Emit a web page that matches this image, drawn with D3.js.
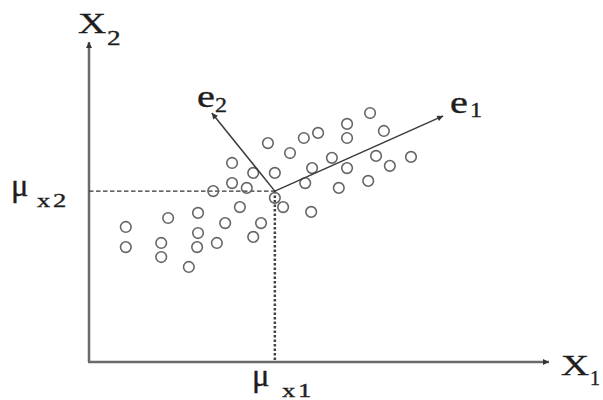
<!DOCTYPE html>
<html>
<head>
<meta charset="utf-8">
<script src="https://cdn.jsdelivr.net/npm/d3@7"></script>
<style>
  html, body { margin: 0; padding: 0; background: #fff; }
  svg { display: block; }
  text { font-family: "Liberation Serif", "DejaVu Serif", serif; fill: #1e1e1e; stroke: #1e1e1e; stroke-width: 0.35; }
</style>
</head>
<body>
<svg id="chart" width="603" height="400"></svg>
<script>
// ---- Data (abstract units, origin at axis corner) ----
const pointsX = [61.1, 56.1, 49.8, 46.7, 56.1, 64.1, 38.9, 43.7, 52.8, 62.4,
                 70.0, 31.1, 35.7, 40.4, 48.5, 56.1, 65.4, 31.1, 34.3, 27.0,
                 47.0, 60.7, 54.3, 40.4, 42.2, 32.8, 48.3, 23.7, 17.2, 29.6,
                 37.4,  8.0, 23.7, 35.7, 15.7, 27.8,  8.0, 23.5, 15.7, 21.7];
const pointsY = [77.8, 74.4, 71.6, 70.0, 70.0, 72.2, 68.4, 65.3, 63.8, 64.4,
                 64.1, 62.2, 59.1, 59.1, 60.6, 60.6, 61.3, 55.9, 54.4, 53.4,
                 55.9, 56.6, 54.4, 51.3, 48.4, 48.4, 46.9, 46.6, 45.0, 43.4,
                 43.4, 42.2, 40.3, 39.1, 37.2, 37.2, 35.9, 35.9, 32.8, 29.7];
const meanPoint = [40.4, 53.4];
const e1Tip = [77.0, 76.9];
const e2Tip = [26.7, 77.8];
const axisMax = [100, 100];

const svg = d3.select("#chart");
const x = d3.scaleLinear().domain([0, 100]).range([89, 549]);
const y = d3.scaleLinear().domain([0, 100]).range([362, 42]);

const defs = svg.append("defs");
function marker(id, color, w, h) {
  defs.append("marker")
    .attr("id", id).attr("viewBox", "0 0 10 10")
    .attr("refX", 10).attr("refY", 5)
    .attr("markerUnits", "userSpaceOnUse")
    .attr("markerWidth", w).attr("markerHeight", h)
    .attr("orient", "auto")
    .append("path").attr("d", "M0,0 L10,5 L0,10 Z").attr("fill", color);
}
marker("arrAxis", "#333", 9, 6);
marker("arrVec", "#333", 10, 6);

// Axes
svg.append("line")
  .attr("x1", x(0)).attr("y1", y(0)).attr("x2", x(0)).attr("y2", y(axisMax[1]))
  .attr("stroke", "#6a6a6a").attr("stroke-width", 2.5).attr("marker-end", "url(#arrAxis)");
svg.append("line")
  .attr("x1", x(0) - 1).attr("y1", y(0)).attr("x2", x(axisMax[0])).attr("y2", y(0))
  .attr("stroke", "#6a6a6a").attr("stroke-width", 2.5).attr("marker-end", "url(#arrAxis)");

// Mean guides
svg.append("line")
  .attr("x1", x(0)).attr("y1", y(meanPoint[1])).attr("x2", x(meanPoint[0])).attr("y2", y(meanPoint[1]))
  .attr("stroke", "#333").attr("stroke-width", 1.4).attr("stroke-dasharray", "4.5,2.5");
svg.append("line")
  .attr("x1", x(meanPoint[0])).attr("y1", y(meanPoint[1])).attr("x2", x(meanPoint[0])).attr("y2", y(0))
  .attr("stroke", "#444").attr("stroke-width", 2.5).attr("stroke-dasharray", "2.5,2");

// Points
svg.append("g").selectAll("circle")
  .data(pointsX.map((v, i) => [v, pointsY[i]]))
  .join("circle")
  .attr("cx", d => x(d[0])).attr("cy", d => y(d[1]))
  .attr("r", 5.3)
  .attr("fill", "none").attr("stroke", "#666").attr("stroke-width", 1.6);

// Eigenvectors
[e1Tip, e2Tip].forEach(t => {
  svg.append("line")
    .attr("x1", x(meanPoint[0])).attr("y1", y(meanPoint[1]))
    .attr("x2", x(t[0])).attr("y2", y(t[1]))
    .attr("stroke", "#3a3a3a").attr("stroke-width", 1.5).attr("marker-end", "url(#arrVec)");
});

// Labels
function label(txt, lx, ly, size, sx, ls) {
  svg.append("text")
    .attr("transform", `translate(${lx},${ly}) scale(${sx},1)`)
    .attr("font-size", size)
    .attr("letter-spacing", ls || 0)
    .text(txt);
}
label("X", 78, 33, 30, 1.3);
label("2", 107, 45, 21, 1.3);
label("e", 197, 107, 31, 1.3);
label("2", 215, 112, 20, 1.2);
label("e", 450, 113, 31, 1.3);
label("1", 470, 117, 20, 1.2);
label("X", 561, 375, 30, 1.3);
label("1", 590, 385, 20, 1.0);
label("\u03bc", 11, 196, 31, 1.05);
label("x2", 37, 207, 19, 1.4, 2);
label("\u03bc", 252, 386, 31, 1.05);
label("x1", 282, 397, 19, 1.4, 2);
</script>
</body>
</html>
